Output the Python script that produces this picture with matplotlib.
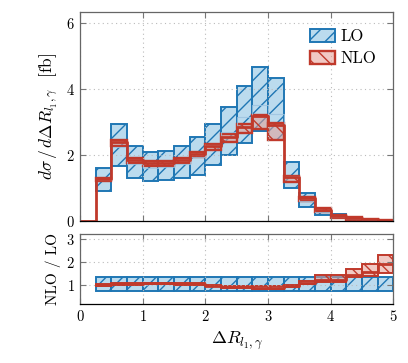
import numpy as np
import matplotlib
matplotlib.use("Agg")
import matplotlib.pyplot as plt
from matplotlib.patches import Patch

plt.rcParams["font.family"] = "serif"
plt.rcParams["font.serif"] = ["cmr10"]
plt.rcParams["mathtext.fontset"] = "cm"
plt.rcParams["axes.formatter.use_mathtext"] = True
plt.rcParams["hatch.linewidth"] = 1.0

# ---------- data ----------
edges = [0.25, 0.5, 0.75, 1.0, 1.25, 1.5, 1.75, 2.0, 2.25, 2.5, 2.75,
         3.0, 3.25, 3.5, 3.75, 4.0, 4.25, 4.5, 4.75, 5.0]

lo_up = [1.62, 2.94, 2.26, 2.08, 2.12, 2.27, 2.55, 2.94, 3.46, 4.10, 4.66,
         4.34, 1.80, 0.86, 0.41, 0.20, 0.10, 0.06, 0.03]
lo_dn = [0.90, 1.66, 1.29, 1.20, 1.23, 1.29, 1.40, 1.70, 2.00, 2.36, 2.73,
         2.46, 0.99, 0.43, 0.19, 0.08, 0.03, 0.01, 0.005]
lo_c = [1.25, 2.25, 1.72, 1.62, 1.64, 1.74, 1.94, 2.30, 2.70, 3.15, 3.50,
        3.25, 1.35, 0.60, 0.27, 0.12, 0.06, 0.035, 0.015]

nlo_up = [1.30, 2.46, 1.90, 1.83, 1.83, 1.90, 2.10, 2.32, 2.63, 2.93, 3.22,
          2.97, 1.37, 0.74, 0.39, 0.18, 0.11, 0.07, 0.03]
nlo_dn = [1.20, 2.28, 1.75, 1.68, 1.68, 1.75, 1.95, 2.15, 2.38, 2.66, 2.78,
          2.45, 1.19, 0.62, 0.26, 0.10, 0.04, 0.02, 0.005]
nlo_c = [1.26, 2.40, 1.84, 1.77, 1.77, 1.84, 2.04, 2.26, 2.55, 2.86, 3.18,
         2.92, 1.33, 0.70, 0.34, 0.15, 0.08, 0.05, 0.02]

r_lo_up = [1.34, 1.34, 1.34, 1.34, 1.34, 1.34, 1.34, 1.34, 1.34, 1.34, 1.34,
           1.34, 1.37, 1.37, 1.37, 1.37, 1.37, 1.37, 1.37]
r_lo_dn = [0.76, 0.76, 0.76, 0.76, 0.76, 0.76, 0.76, 0.76, 0.76, 0.76, 0.76,
           0.76, 0.74, 0.74, 0.74, 0.74, 0.74, 0.74, 0.74]
r_nlo_c = [1.00, 1.03, 1.05, 1.07, 1.07, 1.05, 1.03, 0.98, 0.93, 0.90, 0.87,
           0.88, 0.97, 1.10, 1.20, 1.22, 1.42, 1.55, 1.90]
r_nlo_up = [1.04, 1.07, 1.09, 1.11, 1.11, 1.09, 1.07, 1.02, 0.97, 0.95, 0.95,
            0.95, 1.02, 1.17, 1.43, 1.43, 1.69, 1.90, 2.30]
r_nlo_dn = [0.96, 0.99, 1.01, 1.03, 1.03, 1.01, 0.99, 0.94, 0.89, 0.85, 0.83,
            0.83, 0.93, 1.03, 1.15, 1.15, 1.36, 1.39, 1.51]

# ---------- style ----------
blue = "#1f77b4"
blue_fill = (0.62, 0.80, 0.91, 0.7)
red = "#c0392b"
red_fill = (0.90, 0.62, 0.58, 0.55)
w = 0.25
left = np.array(edges[:-1])


def band(ax, up, dn, fc, ec, hatch, lw):
    up = np.array(up)
    dn = np.array(dn)
    ax.bar(left, up - dn, bottom=dn, width=w, align="edge", facecolor=fc,
           edgecolor=ec, hatch=hatch, linewidth=lw)


def step(ax, vals, **kw):
    x = np.concatenate([[0.0], edges])
    y = np.concatenate([[0.0], vals, [vals[-1]]])
    ax.step(x, y, where="post", **kw)


def style(ax):
    ax.set_xlim(0, 5)
    ax.tick_params(direction="in", top=True, right=True, length=4,
                   color="#777777", labelsize=10.5, width=0.8)
    ax.grid(True, ls=(0, (1, 3)), color="#bbbbbb", lw=0.8)
    for s in ax.spines.values():
        s.set_color("#666666")
        s.set_linewidth(0.9)
    ax.spines["bottom"].set_color("black")


fig = plt.figure(figsize=(4.08, 3.63), dpi=100)
ax1 = fig.add_axes([0.196, 0.391, 0.768, 0.576])
ax2 = fig.add_axes([0.196, 0.1625, 0.768, 0.192])

# main panel
band(ax1, lo_up, lo_dn, blue_fill, blue, "//", 1.4)
ax1.step(edges, lo_c + [lo_c[-1]], where="post", color="#9cc3e0", lw=0.8, alpha=0.8)
band(ax1, nlo_up, nlo_dn, red_fill, red, "\\\\", 1.7)
step(ax1, nlo_c, color=red, lw=2.0)
style(ax1)
ax1.set_ylim(0, 6.33)
ax1.set_yticks([0, 2, 4, 6])
ax1.set_xticks([0, 1, 2, 3, 4, 5])
ax1.tick_params(labelbottom=False)
ax1.set_ylabel(r"$d\sigma\,/\,d\Delta R_{l_1,\gamma}$  [fb]", fontsize=12.5)

handles = [Patch(facecolor=blue_fill, edgecolor=blue, hatch="//", lw=1.4),
           Patch(facecolor=red_fill, edgecolor=red, hatch="\\\\", lw=1.7)]
ax1.legend(handles, ["LO", "NLO"], loc="upper left", bbox_to_anchor=(0.685, 0.99),
           frameon=False, fontsize=12, handlelength=1.55, handleheight=0.8,
           labelspacing=0.4, handletextpad=0.3)

# ratio panel
band(ax2, r_lo_up, r_lo_dn, blue_fill, blue, "//", 1.4)
band(ax2, r_nlo_up, r_nlo_dn, red_fill, red, "\\\\", 1.4)
ax2.step(edges, r_nlo_c + [r_nlo_c[-1]], where="post", color=red, lw=2.0)
style(ax2)
ax2.set_ylim(0.17, 3.22)
ax2.set_yticks([1, 2, 3])
ax2.set_xticks([0, 1, 2, 3, 4, 5])
ax2.set_ylabel("NLO / LO", fontsize=11)
ax2.set_xlabel(r"$\Delta R_{l_1,\gamma}$", fontsize=13)

fig.align_ylabels([ax1, ax2])
fig.savefig("out.png", dpi=100)
